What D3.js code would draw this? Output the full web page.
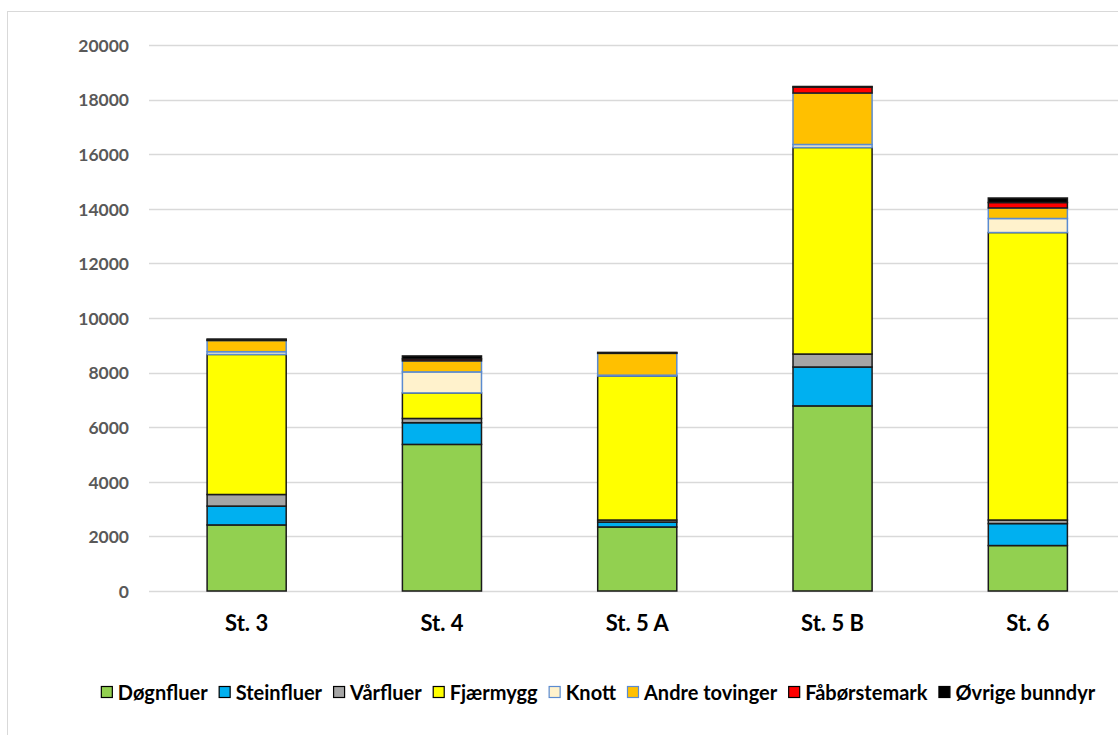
<!DOCTYPE html>
<html>
<head>
<meta charset="utf-8">
<script src="https://cdn.jsdelivr.net/npm/d3@7"></script>
<style>
  html, body { margin: 0; padding: 0; background: #fff; }
  svg { display: block; }
  text { font-family: Lato, "Open Sans", "Liberation Sans", sans-serif; font-weight: bold; }
</style>
</head>
<body>
<svg id="chart" width="1118" height="735"></svg>
<script>
// Stations along the x axis
const stations = ["St. 3", "St. 4", "St. 5 A", "St. 5 B", "St. 6"];

// Taxon groups, stacked bottom to top
const groups = ["Døgnfluer", "Steinfluer", "Vårfluer", "Fjærmygg", "Knott", "Andre tovinger", "Fåbørstemark", "Øvrige bunndyr"];

// Individuals per station for each group
const dognfluer     = [2420, 5370, 2345, 6780, 1665];
const steinfluer    = [ 690,  795,  180, 1425,  805];
const varfluer      = [ 425,  155,   75,  475,  130];
const fjaermygg     = [5130,  935, 5275, 7565, 10530];
const knott         = [ 100,  770,   30,  110,  515];
const andreTovinger = [ 410,  405,  800, 1885,  385];
const faborstemark  = [  20,   70,   15,  220,  200];
const ovrigeBunndyr = [  35,  110,   20,   20,  165];

const series = [dognfluer, steinfluer, varfluer, fjaermygg, knott, andreTovinger, faborstemark, ovrigeBunndyr];

// Y axis ticks
const yTicks = [0, 2000, 4000, 6000, 8000, 10000, 12000, 14000, 16000, 18000, 20000];

const fills   = ["#92D050", "#00B0F0", "#A5A5A5", "#FFFF00", "#FFF2CC", "#FFC000", "#FF0000", "#000000"];
const strokes = ["#1a1a1a", "#1a1a1a", "#1a1a1a", "#1a1a1a", "#5B8BD0", "#5B8BD0", "#1a1a1a", "#1a1a1a"];

const rows = stations.map((s, i) => {
  const r = { station: s };
  groups.forEach((g, k) => { r[g] = series[k][i]; });
  return r;
});

const svg = d3.select("#chart");

// chart frame
svg.append("rect")
  .attr("x", 7.5).attr("y", 11.5)
  .attr("width", 1130).attr("height", 760)
  .attr("fill", "none").attr("stroke", "#d9d9d9").attr("stroke-width", 1);

const x = d3.scaleBand()
  .domain(stations)
  .range([149, 1125.5])
  .paddingInner(0.595)
  .paddingOuter(0.2975);

const y = d3.scaleLinear()
  .domain([0, 20000])
  .range([591, 45]);

// gridlines
svg.append("g")
  .selectAll("line")
  .data(yTicks)
  .join("line")
  .attr("x1", 149).attr("x2", 1125)
  .attr("y1", d => Math.round(y(d)) + 0.5)
  .attr("y2", d => Math.round(y(d)) + 0.5)
  .attr("stroke", "#d9d9d9").attr("stroke-width", 1.3);

// y axis labels
const yAxis = d3.axisLeft(y).tickValues(yTicks).tickSize(0).tickPadding(0).tickFormat(d3.format("d"));
const yg = svg.append("g").attr("transform", "translate(129,0)").call(yAxis);
yg.select(".domain").remove();
yg.selectAll("text")
  .attr("fill", "#595959")
  .style("font-size", "17.5px")
  .attr("dy", "0.36em");

// stacked bars
const stack = d3.stack().keys(groups);
const layers = stack(rows);

svg.append("g")
  .selectAll("g")
  .data(layers)
  .join("g")
  .attr("fill", (d, i) => fills[i])
  .attr("stroke", (d, i) => strokes[i])
  .attr("stroke-width", 1.5)
  .selectAll("rect")
  .data(d => d)
  .join("rect")
  .attr("x", d => x(d.data.station))
  .attr("width", x.bandwidth())
  .attr("y", d => y(d[1]))
  .attr("height", d => Math.max(0, y(d[0]) - y(d[1])));

// x axis labels
const xAxis = d3.axisBottom(x).tickSize(0).tickPadding(0);
const xg = svg.append("g").attr("transform", "translate(0,591)").call(xAxis);
xg.select(".domain").remove();
xg.selectAll("text")
  .attr("fill", "#000")
  .attr("dy", null)
  .attr("y", 40)
  .style("font-size", "22px");

// legend
const legend = svg.append("g");
const items = legend.selectAll("g")
  .data(groups)
  .join("g");
items.append("rect")
  .attr("x", 0.5).attr("y", -13.5)
  .attr("width", 11).attr("height", 11)
  .attr("fill", (d, i) => fills[i])
  .attr("stroke", (d, i) => strokes[i] === "#1a1a1a" ? "#000" : strokes[i])
  .attr("stroke-width", 1.2);
items.append("text")
  .attr("x", 17).attr("y", 0)
  .style("font-size", "20px")
  .attr("fill", "#000")
  .text(d => d);

let cursor = 0;
const positions = [];
items.each(function () {
  const w = this.querySelector("text").getComputedTextLength();
  positions.push(cursor);
  cursor += 17 + w + 11;
});
const total = cursor - 11;
const startX = 598 - total / 2;
items.attr("transform", (d, i) => `translate(${startX + positions[i]},700)`);
</script>
</body>
</html>
